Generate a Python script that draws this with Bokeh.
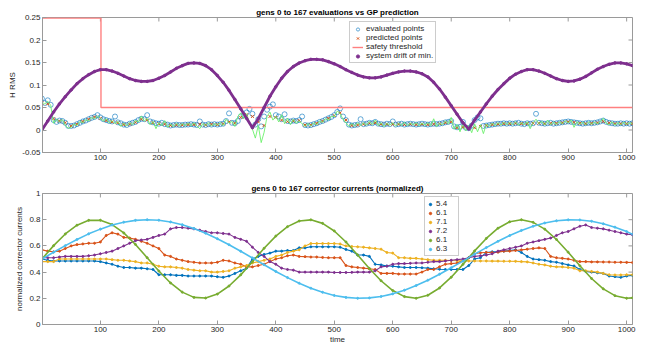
from bokeh.plotting import figure
from bokeh.layouts import column
from bokeh.models import FixedTicker, Legend, LegendItem, Range1d
from bokeh.embed import file_html
from bokeh.resources import INLINE

# ---------------- data: top panel ----------------
t5 = list(range(0, 1011, 5))
t10 = list(range(0, 1011, 10))
t20 = list(range(0, 1001, 20)) + [1010]

evaluated = [
    0.070, 0.060, 0.066, 0.056, 0.022, 0.018, 0.021, 0.020, 0.016, 0.009,
    0.009, 0.010, 0.013, 0.016, 0.019, 0.021, 0.024, 0.027, 0.029, 0.033,
    0.028, 0.024, 0.022, 0.020, 0.019, 0.030, 0.017, 0.015, 0.012, 0.011,
    0.014, 0.016, 0.018, 0.022, 0.025, 0.024, 0.033, 0.019, 0.017, 0.015,
    0.014, 0.016, 0.013, 0.012, 0.010, 0.011, 0.012, 0.011, 0.011, 0.012,
    0.012, 0.013, 0.012, 0.011, 0.019, 0.012, 0.011, 0.013, 0.012, 0.013,
    0.012, 0.013, 0.014, 0.020, 0.037, 0.016, 0.015, 0.020, 0.030, 0.033,
    0.039, 0.047, 0.036, 0.012, 0.024, 0.008, 0.030, 0.045, 0.052, 0.057,
    0.033, 0.030, 0.024, 0.035, 0.020, 0.019, 0.021, 0.020, 0.022, 0.030,
    0.011, 0.010, 0.011, 0.013, 0.015, 0.018, 0.020, 0.023, 0.026, 0.029,
    0.033, 0.040, 0.048, 0.030, 0.022, 0.012, 0.010, 0.011, 0.012, 0.024,
    0.013, 0.014, 0.016, 0.015, 0.018, 0.014, 0.013, 0.012, 0.014, 0.013,
    0.019, 0.012, 0.013, 0.014, 0.012, 0.013, 0.014, 0.013, 0.012, 0.013,
    0.014, 0.013, 0.012, 0.013, 0.014, 0.013, 0.014, 0.015, 0.017, 0.018,
    0.020, 0.008, 0.006, 0.007, 0.018, 0.005, 0.004, 0.010, 0.022, 0.028,
    0.026, 0.009, 0.010, 0.011, 0.012, 0.013, 0.014, 0.014, 0.015, 0.014,
    0.015, 0.014, 0.015, 0.016, 0.014, 0.013, 0.015, 0.014, 0.015, 0.036,
    0.016, 0.015, 0.014, 0.015, 0.016, 0.014, 0.015, 0.016, 0.017, 0.018,
    0.019, 0.018, 0.017, 0.016, 0.015, 0.014, 0.015, 0.016, 0.015, 0.016,
    0.017, 0.019, 0.021, 0.018, 0.016, 0.015, 0.014, 0.014, 0.015, 0.014,
    0.015, 0.014, 0.015,
]

predicted = [
    0.060, 0.058, 0.025, 0.020, 0.016, 0.009, 0.013, 0.019, 0.024, 0.029,
    0.026, 0.021, 0.018, 0.016, 0.012, 0.013, 0.017, 0.024, 0.022, 0.016,
    0.014, 0.013, 0.010, 0.011, 0.011, 0.012, 0.012, 0.013, 0.011, 0.013,
    0.012, 0.014, 0.018, 0.015, 0.028, 0.034, 0.030, 0.018, 0.010, 0.030,
    0.028, 0.022, 0.019, 0.020, 0.021, 0.011, 0.011, 0.015, 0.020, 0.026,
    0.032, 0.038, 0.022, 0.010, 0.011, 0.013, 0.015, 0.016, 0.013, 0.013,
    0.013, 0.013, 0.012, 0.013, 0.012, 0.013, 0.012, 0.013, 0.014, 0.016,
    0.018, 0.005, 0.006, 0.004, 0.005, 0.008, 0.010, 0.012, 0.013, 0.014,
    0.014, 0.015, 0.014, 0.014, 0.015, 0.015, 0.014, 0.015, 0.015, 0.016,
    0.018, 0.017, 0.015, 0.014, 0.015, 0.016, 0.019, 0.016, 0.014, 0.014,
    0.014, 0.014,
]

gp_trace = [
    0.062, 0.058, 0.064, 0.055, 0.015, 0.024, 0.018, 0.023, 0.010, 0.004,
    0.006, 0.013, 0.010, 0.019, 0.016, 0.023, 0.020, 0.028, 0.025, 0.031,
    0.026, 0.020, 0.025, 0.016, 0.021, 0.014, 0.019, 0.008, 0.015, 0.009,
    0.017, 0.012, 0.021, 0.018, 0.031, 0.020, 0.026, 0.012, 0.019, 0.003,
    0.016, 0.010, 0.021, 0.006, 0.013, 0.008, 0.015, 0.009, 0.014, 0.010,
    0.015, 0.010, 0.016, 0.009, 0.003, 0.014, 0.010, 0.016, 0.009, 0.014,
    0.011, 0.016, 0.010, 0.024, 0.015, 0.019, 0.008, 0.030, 0.038, 0.025,
    0.036, 0.015, 0.002, -0.018, 0.010, -0.028, -0.005, 0.030, 0.040, 0.022,
    0.030, 0.018, 0.034, 0.014, 0.026, 0.012, 0.024, 0.015, 0.020, 0.014,
    0.008, 0.014, 0.009, 0.016, 0.012, 0.020, 0.017, 0.025, 0.022, 0.030,
    0.030, 0.042, 0.036, 0.024, 0.016, 0.008, 0.014, 0.009, 0.016, 0.010,
    0.016, 0.011, 0.019, 0.012, 0.022, 0.010, 0.016, 0.008, 0.015, 0.011,
    0.016, 0.009, 0.015, 0.011, 0.017, 0.010, 0.015, 0.012, 0.016, 0.010,
    0.015, 0.011, 0.016, 0.010, 0.025, 0.008, 0.015, 0.012, 0.020, 0.014,
    0.028, 0.002, 0.012, -0.004, 0.014, -0.002, 0.010, -0.006, 0.014, -0.004,
    0.012, -0.008, 0.013, 0.008, 0.015, 0.010, 0.016, 0.011, 0.017, 0.012,
    0.017, 0.012, 0.018, 0.011, 0.016, 0.012, 0.018, 0.003, 0.016, 0.024,
    0.014, 0.019, 0.011, 0.022, 0.012, 0.017, 0.013, 0.018, 0.014, 0.020,
    0.016, 0.022, 0.006, 0.018, 0.013, 0.017, 0.012, 0.018, 0.013, 0.017,
    0.014, 0.018, 0.026, 0.015, 0.012, 0.018, 0.011, 0.016, 0.012, 0.017,
    0.013, 0.016, 0.014,
]

drift = [
    0.000, 0.020, 0.040, 0.058, 0.074, 0.089, 0.103, 0.114, 0.123, 0.130,
    0.134, 0.134, 0.131, 0.126, 0.120, 0.114, 0.110, 0.108, 0.108, 0.110,
    0.115, 0.121, 0.129, 0.137, 0.143, 0.148, 0.149, 0.148, 0.143, 0.134,
    0.121, 0.106, 0.088, 0.068, 0.047, 0.026, 0.005, 0.025, 0.050, 0.075,
    0.096, 0.115, 0.130, 0.141, 0.149, 0.154, 0.157, 0.157, 0.156, 0.152,
    0.147, 0.141, 0.134, 0.128, 0.122, 0.118, 0.116, 0.116, 0.118, 0.122,
    0.126, 0.129, 0.131, 0.131, 0.129, 0.125, 0.118, 0.106, 0.091, 0.073,
    0.054, 0.035, 0.016, 0.002, 0.022, 0.040, 0.058, 0.075, 0.090, 0.103,
    0.115, 0.124, 0.130, 0.134, 0.134, 0.131, 0.126, 0.120, 0.114, 0.110,
    0.108, 0.109, 0.113, 0.119, 0.127, 0.135, 0.141, 0.146, 0.149, 0.149,
    0.147, 0.143,
]

thresh_t = [1, 101, 101, 1010]
thresh_v = [0.249, 0.249, 0.05, 0.05]

# ---------------- data: bottom panel ----------------
c54 = [
    0.50, 0.49, 0.485, 0.485, 0.485, 0.485, 0.485, 0.485, 0.485, 0.485,
    0.48, 0.47, 0.46, 0.445, 0.435, 0.435, 0.43, 0.43, 0.425, 0.42,
    0.38, 0.38, 0.38, 0.375, 0.375, 0.37, 0.37, 0.37, 0.37, 0.37,
    0.365, 0.36, 0.37, 0.39, 0.41, 0.43, 0.50, 0.52, 0.535, 0.545,
    0.56, 0.56, 0.565, 0.565, 0.585, 0.585, 0.593, 0.593, 0.593, 0.593,
    0.593, 0.59, 0.573, 0.56, 0.53, 0.53, 0.52, 0.46, 0.455, 0.447,
    0.445, 0.44, 0.435, 0.435, 0.435, 0.433, 0.43, 0.425, 0.422, 0.42,
    0.42, 0.42, 0.42, 0.45, 0.50, 0.51, 0.55, 0.555, 0.555, 0.56,
    0.565, 0.57, 0.55, 0.52, 0.50, 0.495, 0.49, 0.48, 0.475, 0.465,
    0.455, 0.447, 0.42, 0.405, 0.40, 0.395, 0.39, 0.37, 0.365, 0.36,
    0.37, 0.375,
]
c61a = [
    0.57, 0.56, 0.555, 0.56, 0.58, 0.60, 0.61, 0.615, 0.62, 0.62,
    0.63, 0.68, 0.70, 0.69, 0.665, 0.66, 0.65, 0.635, 0.62, 0.60,
    0.58, 0.53, 0.52, 0.50, 0.49, 0.48, 0.475, 0.47, 0.47, 0.47,
    0.475, 0.49, 0.485, 0.47, 0.46, 0.44, 0.44, 0.45, 0.46, 0.48,
    0.50, 0.51, 0.525, 0.53, 0.52, 0.518, 0.515, 0.515, 0.512, 0.51,
    0.51, 0.51, 0.45, 0.44, 0.435, 0.43, 0.425, 0.42, 0.39, 0.39,
    0.39, 0.385, 0.385, 0.385, 0.385, 0.40, 0.42, 0.42, 0.44, 0.46,
    0.465, 0.47, 0.49, 0.51, 0.54, 0.548, 0.55, 0.55, 0.552, 0.56,
    0.56, 0.565, 0.57, 0.575, 0.58, 0.585, 0.58, 0.52, 0.51, 0.505,
    0.50, 0.49, 0.48, 0.48, 0.478, 0.478, 0.477, 0.477, 0.475, 0.475,
    0.474, 0.473,
]
c71 = [
    0.48, 0.48, 0.48, 0.50, 0.50, 0.50, 0.50, 0.50, 0.50, 0.50,
    0.50, 0.50, 0.495, 0.49, 0.49, 0.485, 0.48, 0.47, 0.47, 0.46,
    0.445, 0.44, 0.44, 0.435, 0.43, 0.42, 0.415, 0.41, 0.41, 0.40,
    0.40, 0.405, 0.41, 0.43, 0.44, 0.45, 0.47, 0.48, 0.49, 0.50,
    0.52, 0.53, 0.55, 0.56, 0.57, 0.60, 0.618, 0.618, 0.618, 0.618,
    0.618, 0.615, 0.60, 0.595, 0.593, 0.59, 0.585, 0.58, 0.575, 0.55,
    0.545, 0.51, 0.51, 0.505, 0.505, 0.50, 0.495, 0.49, 0.49, 0.49,
    0.488, 0.487, 0.486, 0.485, 0.485, 0.485, 0.485, 0.484, 0.484, 0.483,
    0.483, 0.482, 0.48, 0.478, 0.47, 0.46, 0.455, 0.445, 0.44, 0.44,
    0.435, 0.43, 0.41, 0.41, 0.405, 0.40, 0.39, 0.38, 0.378, 0.378,
    0.38, 0.38,
]
c72 = [
    0.51, 0.51, 0.51, 0.515, 0.52, 0.52, 0.52, 0.52, 0.525, 0.53,
    0.54, 0.55, 0.56, 0.58, 0.60, 0.62, 0.64, 0.645, 0.65, 0.665,
    0.68, 0.69, 0.73, 0.74, 0.74, 0.735, 0.73, 0.72, 0.71, 0.70,
    0.70, 0.695, 0.69, 0.665, 0.65, 0.635, 0.59, 0.55, 0.52, 0.48,
    0.46, 0.43, 0.42, 0.415, 0.40, 0.40, 0.40, 0.40, 0.40, 0.40,
    0.397, 0.397, 0.397, 0.398, 0.40, 0.40, 0.40, 0.41, 0.44, 0.445,
    0.46, 0.465, 0.465, 0.467, 0.47, 0.47, 0.475, 0.48, 0.48, 0.485,
    0.49, 0.495, 0.50, 0.51, 0.52, 0.525, 0.53, 0.54, 0.56, 0.57,
    0.58, 0.59, 0.60, 0.62, 0.63, 0.64, 0.65, 0.66, 0.68, 0.70,
    0.71, 0.73, 0.75, 0.76, 0.74, 0.735, 0.73, 0.72, 0.71, 0.70,
    0.69, 0.685,
]
c61b = [
    0.500, 0.602, 0.691, 0.758, 0.795, 0.796, 0.763, 0.699, 0.611, 0.510,
    0.408, 0.317, 0.247, 0.207, 0.202, 0.232, 0.294, 0.379, 0.479, 0.582,
    0.675, 0.747, 0.790, 0.799, 0.772, 0.714, 0.630, 0.531, 0.428, 0.334,
    0.259, 0.213, 0.200, 0.223, 0.279, 0.361, 0.459, 0.562, 0.657, 0.735,
    0.784, 0.800, 0.780, 0.728, 0.649, 0.552, 0.448, 0.351, 0.272, 0.220,
    0.200, 0.204,
]
c63 = [
    0.500, 0.552, 0.602, 0.649, 0.692, 0.728, 0.759, 0.781, 0.795, 0.800,
    0.796, 0.783, 0.762, 0.733, 0.697, 0.655, 0.609, 0.559, 0.508, 0.456,
    0.405, 0.358, 0.315, 0.277, 0.246, 0.222, 0.207, 0.200, 0.203, 0.214,
    0.234, 0.262, 0.297, 0.338, 0.384, 0.433, 0.484, 0.537, 0.587, 0.635,
    0.679, 0.718, 0.750, 0.775, 0.792, 0.799, 0.798, 0.788, 0.769, 0.743,
    0.709, 0.689,
]

x_ticks = [100, 200, 300, 400, 500, 600, 700, 800, 900, 1000]
top_y_ticks = [-0.05, 0, 0.05, 0.1, 0.15, 0.2, 0.25]
top_y_labels = ["-0.05", "0", "0.05", "0.1", "0.15", "0.2", "0.25"]
bot_y_ticks = [0, 0.2, 0.4, 0.6, 0.8, 1]
bot_y_labels = ["0", "0.2", "0.4", "0.6", "0.8", "1"]

FONT = "Liberation Sans"
TXT = "#262626"
AX = "#9a9a9a"
C_BLUE = "#0072BD"
C_ORANGE = "#D95319"
C_YELLOW = "#EDB120"
C_PURPLE = "#7E2F8E"
C_GREEN = "#77AC30"
C_LBLUE = "#4DBEEE"
C_THR = "#FF8080"

X0, X1 = 1, 1010
FW = 590  # frame width in px


def style(p, yticks, ylabels, y0, y1, fh):
    p.xgrid.visible = False
    p.ygrid.visible = False
    p.outline_line_color = AX
    p.outline_line_width = 1
    for ax in list(p.below) + list(p.left):
        ax.major_tick_in = 4
        ax.major_tick_out = 0
        ax.minor_tick_line_color = None
        ax.axis_line_color = AX
        ax.major_tick_line_color = AX
        ax.major_label_text_font = FONT
        ax.major_label_text_font_size = "8px"
        ax.major_label_text_color = TXT
        ax.major_label_standoff = 2
        ax.axis_label_text_font = FONT
        ax.axis_label_text_font_size = "8px"
        ax.axis_label_text_font_style = "normal"
        ax.axis_label_text_color = TXT
        ax.axis_label_standoff = 2
    p.xaxis.ticker = FixedTicker(ticks=x_ticks)
    p.yaxis.ticker = FixedTicker(ticks=yticks)
    p.yaxis.major_label_overrides = {t: s for t, s in zip(yticks, ylabels)}
    # inward ticks on the top and right edges of the box
    dy = 4 * (y1 - y0) / fh
    dx = 4 * (X1 - X0) / FW
    p.segment(x0=x_ticks, y0=[y1] * len(x_ticks), x1=x_ticks, y1=[y1 - dy] * len(x_ticks),
              line_color=AX, line_width=1)
    p.segment(x0=[X1] * len(yticks), y0=yticks, x1=[X1 - dx] * len(yticks), y1=yticks,
              line_color=AX, line_width=1)
    p.title.text_font = FONT
    p.title.text_font_size = "8px"
    p.title.text_font_style = "bold"
    p.title.text_color = "black"
    p.title.align = "center"
    p.title.standoff = 2


def style_legend(lg, glyph_w, pad):
    lg.label_text_font = FONT
    lg.label_text_font_size = "8px"
    lg.label_text_color = TXT
    lg.label_height = 8
    lg.glyph_height = 8
    lg.glyph_width = glyph_w
    lg.label_standoff = 3
    lg.spacing = 0
    lg.padding = pad
    lg.margin = 0
    lg.border_line_color = AX
    lg.background_fill_alpha = 1


# ---------------- top figure ----------------
p1 = figure(width=640, height=170, output_backend="svg", toolbar_location=None,
            x_range=Range1d(X0, X1), y_range=Range1d(-0.05, 0.25),
            title="gens 0 to 167 evaluations vs GP prediction",
            min_border_left=42, min_border_right=8, min_border_top=17, min_border_bottom=18)
p1.yaxis.axis_label = "H RMS"
style(p1, top_y_ticks, top_y_labels, -0.05, 0.25, 135)

r_eval = p1.scatter(t5, evaluated, marker="circle", size=5, fill_color=None,
                    line_color=C_BLUE, line_width=0.8, line_alpha=0.75)
r_pred = p1.scatter(t10, predicted, marker="x", size=4, line_color=C_ORANGE, line_width=1)
p1.line(t5, gp_trace, line_color="#6CF06C", line_width=0.9)
r_thr = p1.line(thresh_t, thresh_v, line_color=C_THR, line_width=1.4)
p1.line(t10, drift, line_color=C_PURPLE, line_width=2.8)
r_drift = p1.scatter(t10, drift, marker="circle", size=2.5, color=C_PURPLE)

leg1 = Legend(items=[
    LegendItem(label="evaluated points", renderers=[r_eval]),
    LegendItem(label="predicted points", renderers=[r_pred]),
    LegendItem(label="safety threshold", renderers=[r_thr]),
    LegendItem(label="system drift of min.", renderers=[r_drift]),
], location=(307, 89))
style_legend(leg1, 11, 2)
p1.add_layout(leg1, "center")

# ---------------- bottom figure ----------------
p2 = figure(width=640, height=176, output_backend="svg", toolbar_location=None,
            x_range=Range1d(X0, X1), y_range=Range1d(0, 1),
            title="gens 0 to 167 corrector currents (normalized)",
            min_border_left=42, min_border_right=8, min_border_top=23, min_border_bottom=20)
p2.yaxis.axis_label = "normalized corrector currents"
p2.xaxis.axis_label = "time"
style(p2, bot_y_ticks, bot_y_labels, 0, 1, 133)
p2.xaxis.axis_label_standoff = 0

items = []
series = [
    ("5.4", t10, c54, C_BLUE),
    ("6.1", t10, c61a, C_ORANGE),
    ("7.1", t10, c71, C_YELLOW),
    ("7.2", t10, c72, C_PURPLE),
    ("6.1", t20, c61b, C_GREEN),
    ("6.3", t20, c63, C_LBLUE),
]
for lab, tt, vv, col in series:
    w = 1.6 if tt is t20 else 1.1
    p2.line(tt, vv, line_color=col, line_width=w)
    r = p2.scatter(tt, vv, marker="circle", size=2, color=col)
    items.append(LegendItem(label=lab, renderers=[r]))

leg2 = Legend(items=items, location=(382, 68))
style_legend(leg2, 6, 2)
p2.add_layout(leg2, "center")

layout = column(p1, p2, spacing=0)
open("out.html", "w").write(file_html(layout, INLINE))
